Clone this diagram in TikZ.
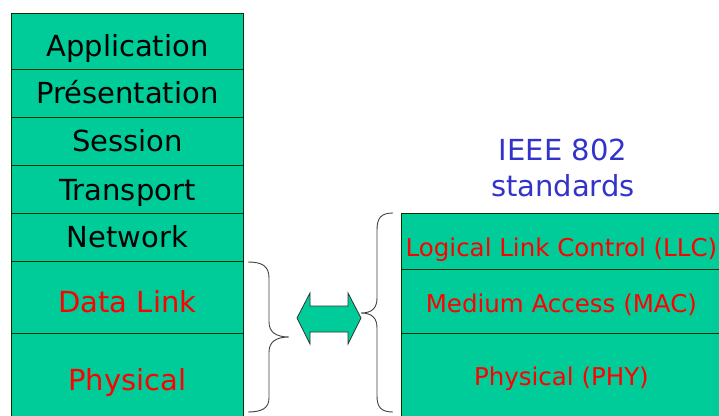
\documentclass[tikz,border=0pt]{standalone}
\usepackage{fontspec}
\setmainfont{DejaVu Sans}
\definecolor{layergreen}{HTML}{00CC99}
\definecolor{ieeeblue}{HTML}{3333CC}
\definecolor{layerred}{HTML}{FF0000}
\tikzset{
  layer/.style={draw=black!80!green, line width=0.8pt, fill=layergreen, inner sep=0pt, anchor=north west, font=\fontsize{29}{32}\selectfont, text depth=0pt},
  leftlayer/.style={layer, minimum width=232pt},
  rightlayer/.style={layer, minimum width=320pt, font=\fontsize{24.5}{28}\selectfont, text=layerred},
  bracestyle/.style={draw=black!75, line width=0.9pt},
}
\begin{document}
\begin{tikzpicture}[x=1pt,y=-1pt]
\useasboundingbox (0,0) rectangle (719,415);
\clip (0,0) rectangle (719,415);
% left OSI stack
\node[leftlayer, minimum height=56pt, text height=31pt] (app) at (11,13) {Application};
\node[leftlayer, minimum height=48pt, text height=21pt] (pres) at (11,69) {Présentation};
\node[leftlayer, minimum height=48pt, text height=21pt] (sess) at (11,117) {Session};
\node[leftlayer, minimum height=48pt, text height=23pt] (trans) at (11,165) {Transport};
\node[leftlayer, minimum height=48pt, text height=21pt] (net) at (11,213) {Network};
\node[leftlayer, minimum height=72pt, text height=30pt, text=layerred] (dl) at (11,261) {Data Link};
\node[leftlayer, minimum height=90pt, text height=25pt, text=layerred] (phy) at (11,333) {Physical};
% right IEEE stack
\node[rightlayer, minimum height=56pt, text height=30pt] (llc) at (401,213) {Logical Link Control (LLC)};
\node[rightlayer, minimum height=64pt, text height=22pt] (mac) at (401,269) {Medium Access (MAC)};
\node[rightlayer, minimum height=85pt, text height=20pt] (rphy) at (401,333) {Physical (PHY)};
% title
\node[text=ieeeblue, font=\fontsize{29}{36}\selectfont, align=center] (title) at (563,168) {IEEE 802\\standards};
% left brace (closing)
\draw[bracestyle] (248,262) .. controls (262,262) and (269,266) .. (269,278)
  -- (269,322) .. controls (269,332) and (276,337) .. (289,337)
  .. controls (276,337) and (269,342) .. (269,352)
  -- (269,398) .. controls (269,408) and (262,412) .. (248,412);
% right brace (opening)
\draw[bracestyle] (393,213) .. controls (381,213) and (377,218) .. (377,230)
  -- (377,298) .. controls (377,308) and (372,313) .. (361,313)
  .. controls (372,313) and (377,318) .. (377,328)
  -- (377,396) .. controls (377,407) and (381,412) .. (393,412);
% double arrow
\draw[draw=black!80, line width=0.8pt, fill=layergreen]
  (297,318) -- (310,293) -- (310,306) -- (348,306) -- (348,293) -- (361,318)
  -- (348,344) -- (348,332) -- (310,332) -- (310,344) -- cycle;
\end{tikzpicture}
\end{document}
